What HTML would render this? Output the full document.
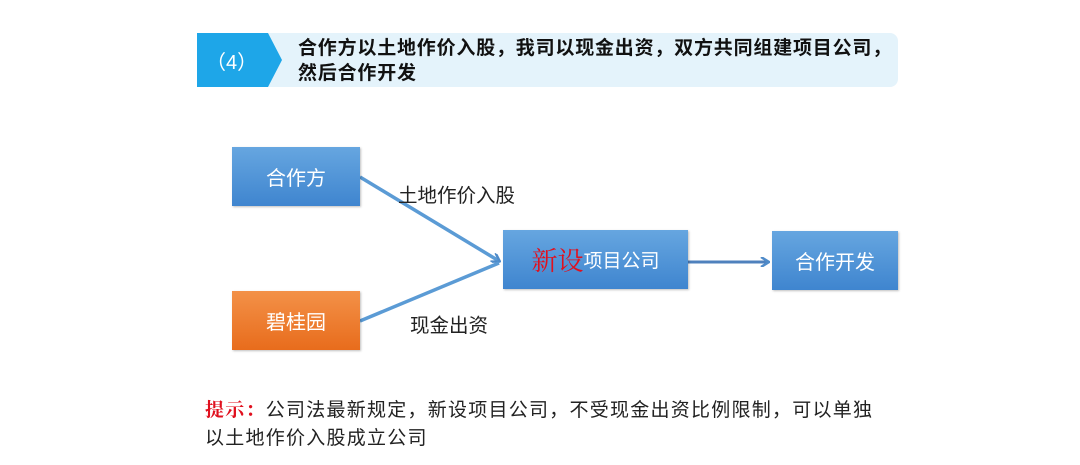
<!DOCTYPE html>
<html><head><meta charset="utf-8"><style>
body{margin:0;width:1080px;height:465px;background:#fff;position:relative;overflow:hidden;font-family:"Liberation Sans","Noto Sans CJK SC",sans-serif}
.abs{position:absolute}
.box{position:absolute;color:#fff;display:flex;align-items:center;justify-content:center;font-size:20px;box-shadow:1px 1px 2px rgba(0,0,0,.25)}
.blue{background:linear-gradient(#66a6e0,#3f85cf)}
.orange{background:linear-gradient(#f39148,#e86c1c)}
.lbl{position:absolute;font-size:19.5px;color:#222;white-space:nowrap}
</style></head><body>
<div class="abs" style="left:197px;top:33px;width:701px;height:54px;background:#e4f3fb;border-radius:0 8px 8px 0"></div>
<svg class="abs" style="left:0;top:0" width="1080" height="465">
<polygon points="197,33 268,33 282,60 268,87 197,87" fill="#1ea6e8"/>
<defs><marker id="a" markerWidth="10" markerHeight="10" refX="8" refY="5" orient="auto" markerUnits="userSpaceOnUse"><path d="M1,0 L9,5 L1,10" fill="none" stroke="#4f8bc9" stroke-width="2.5"/></marker></defs>
<line x1="360" y1="177" x2="499" y2="261" stroke="#5b9bd5" stroke-width="3.5" marker-end="url(#a)"/>
<line x1="360" y1="321" x2="499" y2="263" stroke="#5b9bd5" stroke-width="3.5"/>
<line x1="688" y1="262" x2="768" y2="262" stroke="#4f81bd" stroke-width="3" marker-end="url(#a)"/>
</svg>
<div class="abs" style="left:206px;top:46px;color:#fff;font-size:20px">（4）</div>
<div class="abs" style="left:298px;top:36px;font-size:19px;font-weight:bold;line-height:25px;letter-spacing:0.8px;color:#111">合作方以土地作价入股，我司以现金出资，双方共同组建项目公司，<br>然后合作开发</div>
<div class="box blue" style="left:232px;top:147px;width:128px;height:59px">合作方</div>
<div class="box orange" style="left:232px;top:291px;width:128px;height:59px">碧桂园</div>
<div class="box blue" style="left:503px;top:230px;width:185px;height:59px"><span style="color:#e0101e;font-size:26px;font-family:'Liberation Serif','Noto Serif CJK SC',serif">新设</span><span style="font-size:19px">项目公司</span></div>
<div class="box blue" style="left:772px;top:231px;width:126px;height:59px">合作开发</div>
<div class="lbl" style="left:398px;top:179px">土地作价入股</div>
<div class="lbl" style="left:410px;top:309px">现金出资</div>
<div class="abs" style="left:205px;top:397px;font-size:19px;line-height:28px;letter-spacing:1.25px;color:#222"><span style="color:#e0101e;font-weight:bold;font-family:'Liberation Serif','Noto Serif CJK SC',serif">提示：</span>公司法最新规定，新设项目公司，不受现金出资比例限制，可以单独<br>以土地作价入股成立公司</div>
</body></html>
